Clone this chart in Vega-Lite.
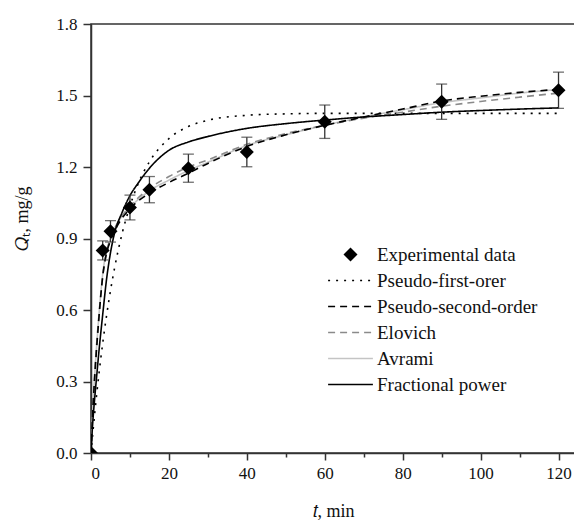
{
  "$schema": "https://vega.github.io/schema/vega-lite/v6.json",
  "width": 487,
  "height": 429,
  "autosize": {"type": "none"},
  "padding": {"left": 91, "top": 24, "right": 0, "bottom": 68},
  "background": "white",
  "config": {
    "view": {"stroke": "#333", "strokeWidth": 1.5},
    "axis": {
      "labelFont": "Liberation Serif", "titleFont": "Liberation Serif",
      "labelColor": "#111", "titleColor": "#111",
      "domainColor": "#333", "domainWidth": 1.5,
      "tickColor": "#333", "tickWidth": 1.5,
      "grid": false, "titleFontWeight": "normal",
      "labelFontSize": 17, "titleFontSize": 18
    }
  },
  "datasets": {
    "curves": [
      {"series": "Pseudo-first-orer", "t": 0, "q": 0},
      {"series": "Pseudo-first-orer", "t": 1, "q": 0.174},
      {"series": "Pseudo-first-orer", "t": 2, "q": 0.326},
      {"series": "Pseudo-first-orer", "t": 3, "q": 0.46},
      {"series": "Pseudo-first-orer", "t": 4, "q": 0.577},
      {"series": "Pseudo-first-orer", "t": 5, "q": 0.681},
      {"series": "Pseudo-first-orer", "t": 6, "q": 0.772},
      {"series": "Pseudo-first-orer", "t": 8, "q": 0.922},
      {"series": "Pseudo-first-orer", "t": 10, "q": 1.036},
      {"series": "Pseudo-first-orer", "t": 12, "q": 1.126},
      {"series": "Pseudo-first-orer", "t": 15, "q": 1.222},
      {"series": "Pseudo-first-orer", "t": 20, "q": 1.319},
      {"series": "Pseudo-first-orer", "t": 25, "q": 1.37},
      {"series": "Pseudo-first-orer", "t": 30, "q": 1.396},
      {"series": "Pseudo-first-orer", "t": 40, "q": 1.417},
      {"series": "Pseudo-first-orer", "t": 50, "q": 1.423},
      {"series": "Pseudo-first-orer", "t": 60, "q": 1.425},
      {"series": "Pseudo-first-orer", "t": 80, "q": 1.425},
      {"series": "Pseudo-first-orer", "t": 100, "q": 1.425},
      {"series": "Pseudo-first-orer", "t": 120, "q": 1.425},

      {"series": "Avrami", "t": 0, "q": 0},
      {"series": "Avrami", "t": 0.5, "q": 0.2},
      {"series": "Avrami", "t": 1, "q": 0.34},
      {"series": "Avrami", "t": 2, "q": 0.57},
      {"series": "Avrami", "t": 3, "q": 0.75},
      {"series": "Avrami", "t": 4, "q": 0.85},
      {"series": "Avrami", "t": 5, "q": 0.9},
      {"series": "Avrami", "t": 7, "q": 0.97},
      {"series": "Avrami", "t": 10, "q": 1.03},
      {"series": "Avrami", "t": 15, "q": 1.1},
      {"series": "Avrami", "t": 20, "q": 1.145},
      {"series": "Avrami", "t": 25, "q": 1.185},
      {"series": "Avrami", "t": 30, "q": 1.22},
      {"series": "Avrami", "t": 40, "q": 1.29},
      {"series": "Avrami", "t": 50, "q": 1.335},
      {"series": "Avrami", "t": 60, "q": 1.375},
      {"series": "Avrami", "t": 70, "q": 1.41},
      {"series": "Avrami", "t": 80, "q": 1.44},
      {"series": "Avrami", "t": 90, "q": 1.47},
      {"series": "Avrami", "t": 100, "q": 1.49},
      {"series": "Avrami", "t": 110, "q": 1.51},
      {"series": "Avrami", "t": 120, "q": 1.525},

      {"series": "Elovich", "t": 0, "q": 0},
      {"series": "Elovich", "t": 0.5, "q": 0.2},
      {"series": "Elovich", "t": 1, "q": 0.35},
      {"series": "Elovich", "t": 2, "q": 0.57},
      {"series": "Elovich", "t": 3, "q": 0.74},
      {"series": "Elovich", "t": 4, "q": 0.84},
      {"series": "Elovich", "t": 5, "q": 0.9},
      {"series": "Elovich", "t": 7, "q": 0.97},
      {"series": "Elovich", "t": 10, "q": 1.035},
      {"series": "Elovich", "t": 15, "q": 1.11},
      {"series": "Elovich", "t": 20, "q": 1.16},
      {"series": "Elovich", "t": 25, "q": 1.2},
      {"series": "Elovich", "t": 30, "q": 1.23},
      {"series": "Elovich", "t": 40, "q": 1.295},
      {"series": "Elovich", "t": 50, "q": 1.34},
      {"series": "Elovich", "t": 60, "q": 1.375},
      {"series": "Elovich", "t": 70, "q": 1.405},
      {"series": "Elovich", "t": 80, "q": 1.43},
      {"series": "Elovich", "t": 90, "q": 1.455},
      {"series": "Elovich", "t": 100, "q": 1.475},
      {"series": "Elovich", "t": 110, "q": 1.493},
      {"series": "Elovich", "t": 120, "q": 1.51},

      {"series": "Pseudo-second-order", "t": 0, "q": 0},
      {"series": "Pseudo-second-order", "t": 0.5, "q": 0.19},
      {"series": "Pseudo-second-order", "t": 1, "q": 0.33},
      {"series": "Pseudo-second-order", "t": 2, "q": 0.56},
      {"series": "Pseudo-second-order", "t": 3, "q": 0.74},
      {"series": "Pseudo-second-order", "t": 4, "q": 0.84},
      {"series": "Pseudo-second-order", "t": 5, "q": 0.89},
      {"series": "Pseudo-second-order", "t": 7, "q": 0.96},
      {"series": "Pseudo-second-order", "t": 10, "q": 1.025},
      {"series": "Pseudo-second-order", "t": 15, "q": 1.09},
      {"series": "Pseudo-second-order", "t": 20, "q": 1.135},
      {"series": "Pseudo-second-order", "t": 25, "q": 1.174},
      {"series": "Pseudo-second-order", "t": 30, "q": 1.215},
      {"series": "Pseudo-second-order", "t": 40, "q": 1.286},
      {"series": "Pseudo-second-order", "t": 50, "q": 1.335},
      {"series": "Pseudo-second-order", "t": 60, "q": 1.375},
      {"series": "Pseudo-second-order", "t": 70, "q": 1.41},
      {"series": "Pseudo-second-order", "t": 80, "q": 1.443},
      {"series": "Pseudo-second-order", "t": 90, "q": 1.477},
      {"series": "Pseudo-second-order", "t": 100, "q": 1.497},
      {"series": "Pseudo-second-order", "t": 110, "q": 1.513},
      {"series": "Pseudo-second-order", "t": 120, "q": 1.526},

      {"series": "Fractional power", "t": 0, "q": 0},
      {"series": "Fractional power", "t": 0.3, "q": 0.09},
      {"series": "Fractional power", "t": 1, "q": 0.24},
      {"series": "Fractional power", "t": 1.5, "q": 0.33},
      {"series": "Fractional power", "t": 2, "q": 0.42},
      {"series": "Fractional power", "t": 3, "q": 0.58},
      {"series": "Fractional power", "t": 4, "q": 0.73},
      {"series": "Fractional power", "t": 5, "q": 0.84},
      {"series": "Fractional power", "t": 6, "q": 0.92},
      {"series": "Fractional power", "t": 8, "q": 1.01},
      {"series": "Fractional power", "t": 10, "q": 1.08},
      {"series": "Fractional power", "t": 12, "q": 1.13},
      {"series": "Fractional power", "t": 15, "q": 1.195},
      {"series": "Fractional power", "t": 20, "q": 1.27},
      {"series": "Fractional power", "t": 25, "q": 1.305},
      {"series": "Fractional power", "t": 30, "q": 1.328},
      {"series": "Fractional power", "t": 40, "q": 1.362},
      {"series": "Fractional power", "t": 50, "q": 1.382},
      {"series": "Fractional power", "t": 60, "q": 1.397},
      {"series": "Fractional power", "t": 70, "q": 1.41},
      {"series": "Fractional power", "t": 80, "q": 1.42},
      {"series": "Fractional power", "t": 90, "q": 1.43},
      {"series": "Fractional power", "t": 100, "q": 1.437},
      {"series": "Fractional power", "t": 110, "q": 1.443},
      {"series": "Fractional power", "t": 120, "q": 1.448}
    ],
    "exp": [
      {"t": 0, "q": 0, "lo": 0, "hi": 0},
      {"t": 3, "q": 0.85, "lo": 0.81, "hi": 0.89},
      {"t": 5, "q": 0.93, "lo": 0.885, "hi": 0.975},
      {"t": 10, "q": 1.03, "lo": 0.978, "hi": 1.082},
      {"t": 15, "q": 1.105, "lo": 1.05, "hi": 1.16},
      {"t": 25, "q": 1.195, "lo": 1.136, "hi": 1.254},
      {"t": 40, "q": 1.263, "lo": 1.201, "hi": 1.325},
      {"t": 60, "q": 1.39, "lo": 1.32, "hi": 1.46},
      {"t": 90, "q": 1.474, "lo": 1.4, "hi": 1.548},
      {"t": 120, "q": 1.522, "lo": 1.446, "hi": 1.598}
    ]
  },
  "layer": [
    {
      "data": {"name": "curves"},
      "mark": {"type": "line", "interpolate": "monotone", "strokeWidth": 1.6, "clip": true},
      "encoding": {
        "x": {
          "field": "t", "type": "quantitative",
          "title": "𝑡, min",
          "scale": {"domain": [0, 125], "nice": false, "zero": false},
          "axis": {
            "values": [0, 10, 20, 30, 40, 50, 60, 70, 80, 90, 100, 110, 120],
            "labelExpr": "datum.value % 20 === 0 ? datum.label : ''",
            "tickSize": {"condition": {"test": "datum.value % 20 === 0", "value": 7}, "value": 4},
            "labelPadding": 5,
            "titleX": 242,
            "titleY": 63, "titleBaseline": "alphabetic"
          }
        },
        "y": {
          "field": "q", "type": "quantitative",
          "title": "𝑄ₜ, mg/g",
          "scale": {"domain": [0, 1.8], "nice": false},
          "axis": {
            "values": [0, 0.15, 0.3, 0.45, 0.6, 0.75, 0.9, 1.05, 1.2, 1.35, 1.5, 1.65, 1.8],
            "labelExpr": "round(datum.value * 100) % 30 === 0 ? format(datum.value, '.1f') : ''",
            "tickSize": {"condition": {"test": "round(datum.value * 100) % 30 === 0", "value": 8}, "value": 4},
            "labelPadding": 6,
            "titleX": -64, "titleY": 194, "titleAngle": -90,
            "titleAlign": "center", "titleBaseline": "alphabetic"
          }
        },
        "color": {
          "field": "series", "type": "nominal",
          "scale": {
            "domain": ["Experimental data", "Pseudo-first-orer", "Pseudo-second-order", "Elovich", "Avrami", "Fractional power"],
            "range": ["#000000", "#000000", "#000000", "#8a8a8a", "#c4c4c4", "#000000"]
          },
          "legend": {
            "orient": "none", "legendX": 250, "legendY": 221,
            "title": null,
            "labelFont": "Liberation Serif", "labelFontSize": 19, "labelColor": "#111",
            "labelLimit": 400,
            "labelOffset": 17, "rowPadding": 6, "symbolSize": 196,
            "encode": {
              "symbols": {
                "update": {
                  "shape": {"signal": "datum.value === 'Experimental data' ? 'diamond' : 'M-3.2,0L3.2,0'"},
                  "fill": {"signal": "datum.value === 'Experimental data' ? '#000000' : 'transparent'"},
                  "stroke": {"signal": "datum.value === 'Elovich' ? '#8a8a8a' : datum.value === 'Avrami' ? '#c4c4c4' : '#000000'"},
                  "strokeWidth": {"signal": "datum.value === 'Experimental data' ? 0 : 1.6"},
                  "strokeDash": {"signal": "datum.value === 'Pseudo-first-orer' ? [2, 6] : (datum.value === 'Pseudo-second-order' || datum.value === 'Elovich') ? [7, 5] : [1, 0]"}
                }
              }
            }
          }
        },
        "strokeDash": {
          "field": "series", "type": "nominal",
          "scale": {
            "domain": ["Pseudo-first-orer", "Pseudo-second-order", "Elovich", "Avrami", "Fractional power"],
            "range": [[2, 6], [7, 5], [7, 5], [1, 0], [1, 0]]
          },
          "legend": null
        }
      }
    },
    {
      "data": {"name": "exp"},
      "transform": [{"filter": "datum.t > 0"}],
      "mark": {"type": "errorbar", "ticks": {"size": 11, "color": "#333"}, "rule": {"color": "#333"}, "thickness": 1.3, "color": "#333"},
      "encoding": {
        "x": {"field": "t", "type": "quantitative", "title": "𝑡, min"},
        "y": {"field": "lo", "type": "quantitative", "title": "𝑄ₜ, mg/g"},
        "y2": {"field": "hi"}
      }
    },
    {
      "data": {"name": "exp"},
      "mark": {"type": "point", "shape": "diamond", "filled": true, "color": "#000000", "opacity": 1, "size": 196, "clip": true},
      "encoding": {
        "x": {"field": "t", "type": "quantitative", "title": "𝑡, min"},
        "y": {"field": "q", "type": "quantitative", "title": "𝑄ₜ, mg/g"}
      }
    }
  ]
}
